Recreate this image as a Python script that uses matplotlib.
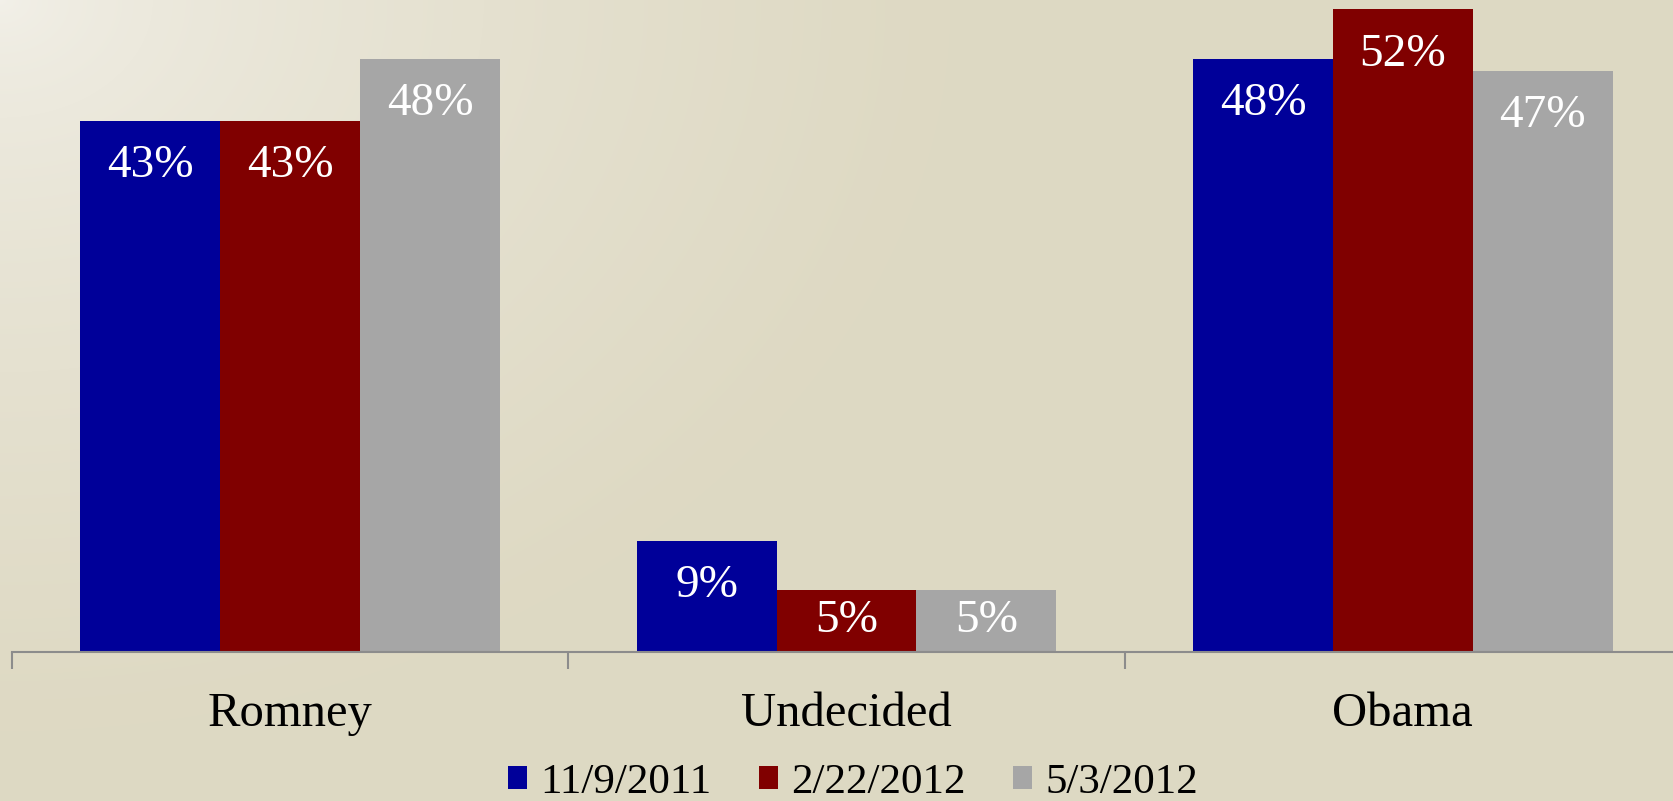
import numpy as np
import matplotlib
matplotlib.use("Agg")
from matplotlib import pyplot as plt
from matplotlib.patches import Patch

categories = ['Romney', 'Undecided', 'Obama']
series = ['11/9/2011', '2/22/2012', '5/3/2012']
values_2011 = [43, 9, 48]
values_feb2012 = [43, 5, 52]
values_may2012 = [48, 5, 47]
colors = ['#000099', '#800000', '#a6a6a6']

plt.rcParams['font.family'] = ['Liberation Serif', 'DejaVu Serif']

W, H = 1673, 801
fig = plt.figure(figsize=(W / 100, H / 100), dpi=100)

# beige background, lighter in the top left corner
bg = fig.add_axes([0, 0, 1, 1], zorder=-10)
yy, xx = np.mgrid[0:H, 0:W]
d = np.sqrt(xx ** 2 + (yy * 1.3) ** 2)
t = np.clip(d / 950.0, 0, 1) ** 0.6
c0 = np.array([243, 241, 234]) / 255.0
c1 = np.array([222, 217, 195]) / 255.0
img = c0[None, None, :] * (1 - t[..., None]) + c1[None, None, :] * t[..., None]
bg.imshow(img, aspect='auto', extent=[0, 1, 0, 1])
bg.axis('off')

left = 12 / W
right = 1681 / W
base = (H - 652) / H
ax = fig.add_axes([left, base, right - left, 1 - base])
ax.patch.set_alpha(0)

x = np.arange(len(categories))
bw = 0.754 / 3
data = [values_2011, values_feb2012, values_may2012]
px_per_unit = 12.36
for i, vals in enumerate(data):
    bars = ax.bar(x + (i - 1) * bw, vals, bw, color=colors[i], linewidth=0, label=series[i])
    for b, v in zip(bars, vals):
        h_px = v * px_per_unit
        off = min(45, h_px / 2)
        ax.annotate(f'{v}%', (b.get_x() + b.get_width() / 2, v),
                    xytext=(0, -off * 0.72), textcoords='offset points',
                    ha='center', va='center', color='white', fontsize=34)

ax.set_xlim(-0.5, len(categories) - 0.5)
ax.set_ylim(0, 652 / px_per_unit)
ax.set_yticks([])
for s in ['top', 'right', 'left']:
    ax.spines[s].set_visible(False)
ax.spines['bottom'].set_color('#8c8c8c')
ax.spines['bottom'].set_linewidth(1.5)

ax.set_xticks(x)
ax.set_xticklabels(categories, fontsize=35)
ax.tick_params(axis='x', which='major', length=0, pad=29)
ax.set_xticks(np.arange(len(categories) + 1) - 0.5, minor=True)
ax.tick_params(axis='x', which='minor', length=12, width=1.5, color='#8c8c8c')

handles = [Patch(facecolor=c, edgecolor='none') for c in colors]
fig.legend(handles, series, loc='center', bbox_to_anchor=(853 / W, 1 - 783 / H),
           ncol=3, frameon=False, fontsize=31, handlelength=0.45, handleheight=0.45,
           handletextpad=0.3, columnspacing=1.1, borderpad=0)

fig.savefig('out.png', dpi=100)
